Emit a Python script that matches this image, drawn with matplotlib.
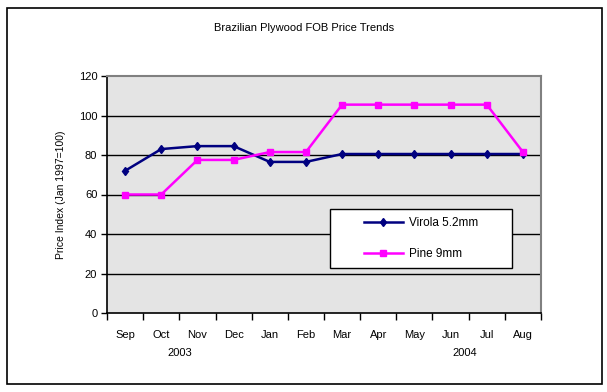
import matplotlib
matplotlib.use("Agg")
import matplotlib.pyplot as plt
from matplotlib.patches import Rectangle
import numpy as np

plt.rcParams['font.family'] = ['Liberation Sans', 'DejaVu Sans']

months = ["Sep", "Oct", "Nov", "Dec", "Jan", "Feb", "Mar", "Apr", "May", "Jun", "Jul", "Aug"]
years = ["2003", "2004"]
virola = [72, 83, 84.5, 84.5, 76.5, 76.5, 80.5, 80.5, 80.5, 80.5, 80.5, 80.5]
pine = [60, 60, 77.5, 77.5, 81.5, 81.5, 105.5, 105.5, 105.5, 105.5, 105.5, 81.5]
yticks = [0, 20, 40, 60, 80, 100, 120]

W, H = 607, 392
fig = plt.figure(figsize=(W / 100, H / 100), dpi=100)
fig.patch.set_facecolor("white")

def fx(px):
    return px / W

def fy(py):
    return 1 - py / H

# outer border
fig.add_artist(Rectangle((fx(7), fy(384)), (602 - 7) / W, (384 - 8) / H,
                         transform=fig.transFigure, fill=False, edgecolor="black", lw=1.2))

L, R, T, B = 107, 541, 76, 313
ax = fig.add_axes([fx(L), fy(B), (R - L) / W, (B - T) / H])
ax.set_facecolor("#E4E4E4")

x = np.arange(len(months))
ax.set_xlim(-0.5, len(months) - 0.5)
ax.set_ylim(0, 120)
ax.set_yticks(yticks)
for v in yticks[1:-1]:
    ax.axhline(v, color="black", lw=1.0, zorder=1)

ax.plot(x, virola, color="#000080", lw=1.8, marker="d", ms=4.5, zorder=3, label="Virola 5.2mm")
ax.plot(x, pine, color="#FF00FF", lw=1.8, marker="s", ms=4.5, zorder=3, label="Pine 9mm")

for s in ["top", "right"]:
    ax.spines[s].set_color("#808080")
    ax.spines[s].set_linewidth(1.5)
for s in ["left", "bottom"]:
    ax.spines[s].set_color("black")
    ax.spines[s].set_linewidth(1.2)

ax.set_xticks(np.arange(-0.5, len(months), 1.0))
ax.set_xticklabels([])
ax.set_xticks(x, minor=True)
ax.set_xticklabels(months, minor=True, fontsize=8)
ax.tick_params(axis="x", which="major", length=5, width=1, direction="out")
ax.tick_params(axis="x", which="minor", length=0, pad=12)
ax.tick_params(axis="y", length=4, width=1, labelsize=8, pad=3)

ax.set_ylabel("Price Index (Jan 1997=100)", fontsize=7.5, labelpad=9)

fig.text(fx(180), fy(353), years[0], ha="center", va="center", fontsize=8)
fig.text(fx(465), fy(353), years[1], ha="center", va="center", fontsize=8)
fig.text(fx(304), fy(28), "Brazilian Plywood FOB Price Trends", ha="center", va="center", fontsize=8)

# legend box
fig.add_artist(Rectangle((fx(330), fy(268)), (512 - 330) / W, (268 - 209) / H,
                         transform=fig.transFigure, facecolor="white", edgecolor="black",
                         lw=1.0, zorder=5))
leg = fig.legend(*ax.get_legend_handles_labels(), loc="center",
                 bbox_to_anchor=(fx(421), fy(238.5)), frameon=False,
                 fontsize=8.5, labelspacing=1.6, handlelength=3.3, handletextpad=0.5,
                 borderpad=0)
leg.set_zorder(6)

fig.savefig("out.png", dpi=100)
